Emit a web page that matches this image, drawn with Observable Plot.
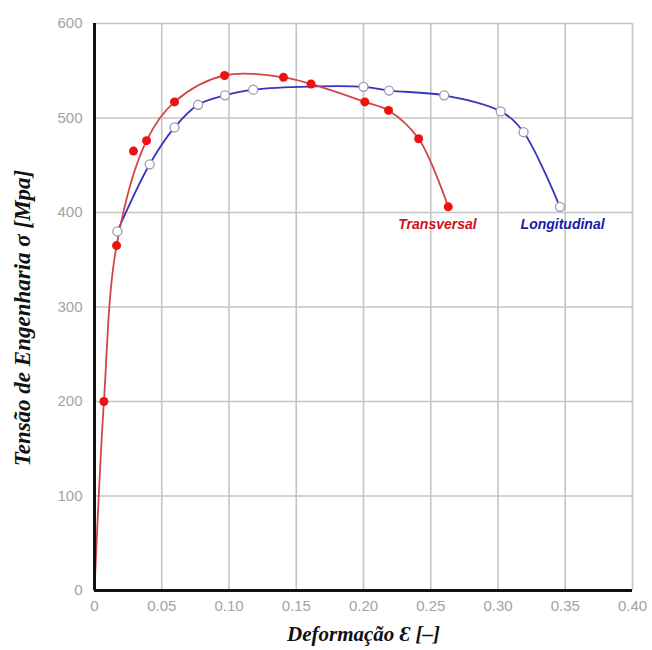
<!DOCTYPE html>
<html>
<head>
<meta charset="utf-8">
<script src="https://cdn.jsdelivr.net/npm/d3@7"></script>
<script src="https://cdn.jsdelivr.net/npm/@observablehq/plot@0.6"></script>
<style>
  body { margin: 0; background: #fff; }
</style>
</head>
<body>
<div id="chart"></div>
<script>
// Transversal (red, filled markers)
const transStrain = [0.007, 0.0164, 0.029, 0.0387, 0.0595, 0.0967, 0.1405, 0.161, 0.201, 0.2186, 0.241, 0.263];
const transStress = [200, 365, 465, 476, 517, 545, 543, 536, 517, 508, 478, 406];
// whether each transversal marker lies on the fitted curve (one scatter point sits off it)
const transOnCurve = [true, true, false, true, true, true, true, true, true, true, true, true];
// Longitudinal (blue, open markers)
const longStrain = [0.017, 0.041, 0.0595, 0.077, 0.097, 0.118, 0.200, 0.219, 0.260, 0.302, 0.319, 0.346];
const longStress = [380, 451, 490, 514, 524, 530, 533, 529, 524, 507, 485, 406];
// origin of the curves
const origin = {strain: 0, stress: 0};

const xTicks = [0, 0.05, 0.10, 0.15, 0.20, 0.25, 0.30, 0.35, 0.40];
const yTicks = [0, 100, 200, 300, 400, 500, 600];

const seriesLabels = [
  {name: "Transversal", strain: 0.255, stress: 387},
  {name: "Longitudinal", strain: 0.348, stress: 387}
];

const trans = transStrain.map((s, i) => ({strain: s, stress: transStress[i], onCurve: transOnCurve[i]}));
const longi = longStrain.map((s, i) => ({strain: s, stress: longStress[i]}));

const chart = Plot.plot({
  width: 652,
  height: 650,
  marginLeft: 94,
  marginRight: 20,
  marginTop: 23,
  marginBottom: 60,
  style: {fontFamily: "'Liberation Sans', Arial, sans-serif", fontSize: "15px", color: "#a3a3a3", background: "#fff"},
  x: {domain: [0, 0.4], ticks: xTicks, tickFormat: d => d === 0 ? "0" : d.toFixed(2), tickSize: 0, tickPadding: 10, label: null},
  y: {domain: [0, 600], ticks: yTicks, tickSize: 0, tickPadding: 12, label: null},
  marks: [
    Plot.ruleX(xTicks, {stroke: "#c4c4c4", strokeWidth: 1.6}),
    Plot.ruleY(yTicks, {stroke: "#c4c4c4", strokeWidth: 1.6}),
    Plot.line(longi, {x: "strain", y: "stress", stroke: "#3535c0", strokeWidth: 1.8, curve: "catmull-rom"}),
    Plot.line([origin, ...trans.filter(d => d.onCurve)], {x: "strain", y: "stress", stroke: "#d24545", strokeWidth: 1.8, curve: "catmull-rom"}),
    Plot.dot(trans, {x: "strain", y: "stress", r: 4.5, fill: "#ee1111", stroke: "none"}),
    Plot.dot(longi, {x: "strain", y: "stress", r: 4.5, fill: "#ffffff", stroke: "#9a9ab8", strokeWidth: 1.3}),
    Plot.ruleX([0], {stroke: "#111", strokeWidth: 3}),
    Plot.ruleY([0], {stroke: "#111", strokeWidth: 3}),
    Plot.text(seriesLabels, {x: "strain", y: "stress", text: "name",
      fill: (d) => d.name === "Transversal" ? "#d0101a" : "#1a1aa8",
      fontSize: 14, fontWeight: "bold", fontStyle: "italic", fontFamily: "'Liberation Sans', Arial, sans-serif"}),
    Plot.text(["Deformação Ɛ [–]"], {frameAnchor: "bottom", dy: 50, fill: "#111",
      fontSize: 21, fontStyle: "italic", fontWeight: "bold", fontFamily: "'Liberation Serif', 'Times New Roman', serif"}),
    Plot.text(["Tensão de Engenharia σ [Mpa]"], {frameAnchor: "left", textAnchor: "middle", dx: -72, dy: 11, rotate: -90, fill: "#111",
      fontSize: 23, fontStyle: "italic", fontWeight: "bold", fontFamily: "'Liberation Serif', 'Times New Roman', serif"})
  ]
});
document.getElementById("chart").appendChild(chart);
</script>
</body>
</html>
